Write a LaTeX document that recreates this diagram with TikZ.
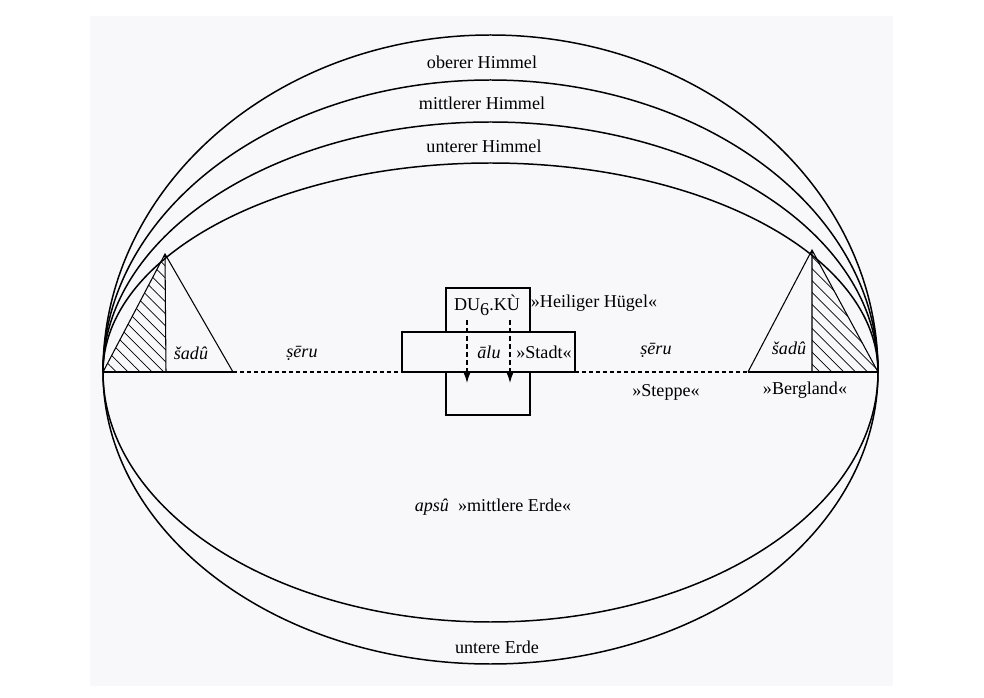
\documentclass[tikz,border=0pt]{standalone}
\usepackage{fontspec}
\setmainfont{Liberation Serif}
\usetikzlibrary{arrows.meta,patterns.meta}
\definecolor{pagegray}{RGB}{248,248,250}

\begin{document}
\begin{tikzpicture}[
      x=0.02cm, y=0.02cm,
      every node/.style={font=\fontsize{10.3}{12}\selectfont, inner sep=1pt},
      term/.style={font=\fontsize{10.3}{12}\selectfont\itshape},
      sky/.style={line width=0.85pt},
      ground/.style={line width=0.6pt},
      track/.style={line width=0.6pt, dash pattern=on 0.08cm off 0.06cm},
      hatch/.style={pattern={Lines[angle=-45,distance=4.8pt,line width=0.4pt]}},
      arr/.style={-{Latex[length=6pt,width=4pt]}, line width=0.6pt,
                  dash pattern=on 0.1cm off 0.06cm},
    ]
    % Page
    \useasboundingbox (0,0) rectangle (984,697);
    \fill[pagegray] (90,11) rectangle (893,681);

    % Horizon ends
    \coordinate (west) at (103,325);
    \coordinate (east) at (878,325);

    % Heavens and earth
    \foreach \b in {337,292,250,209}
      \draw[sky] (west) arc[start angle=180, end angle=0, x radius=387.5, y radius=\b];
    \foreach \b in {250,292}
      \draw[sky] (west) arc[start angle=180, end angle=360, x radius=387.5, y radius=\b];

    % Mountains
    \coordinate (lpeak) at (165,443);
    \coordinate (lfoot) at (166,325);
    \coordinate (lbase) at (233,325);
    \coordinate (rpeak) at (812,447);
    \coordinate (rfoot) at (812,325);
    \coordinate (rbase) at (748,325);
    \fill[hatch] (west) -- (lpeak) -- (lfoot) -- cycle;
    \fill[hatch] (east) -- (rpeak) -- (rfoot) -- cycle;
    \draw[ground] (west) -- (lpeak) -- (lbase) (lpeak) -- (lfoot);
    \draw[ground] (east) -- (rpeak) -- (rbase) (rpeak) -- (rfoot);

    % Hill and city
    \coordinate (cityW) at (402,325);
    \coordinate (cityE) at (575,325);
    \draw[ground] (446,282) rectangle (530,409);
    \filldraw[ground, fill=pagegray] (cityW) rectangle (575,365);

    % Horizon
    \draw[ground] (west) -- (lbase);
    \draw[track] (lbase) -- (cityW);
    \draw[track] (cityE) -- (rbase);
    \draw[ground] (rbase) -- (east);

    % Arrows
    \coordinate (dropA) at (467,377);
    \coordinate (dropAe) at (467,314);
    \coordinate (dropB) at (510,377);
    \coordinate (dropBe) at (510,314);
    \draw[arr] (dropA) -- (dropAe);
    \draw[arr] (dropB) -- (dropBe);

    % Labels
    \node (oben)   at (482,635) {oberer Himmel};
    \node (mitte)  at (482,594) {mittlerer Himmel};
    \node (unten)  at (484,551) {unterer Himmel};
    \node (erde)   at (497,50)  {untere Erde};
    \node (apsu)   at (493,190) {\textit{apsû}\hspace{0.5em}»mittlere Erde«};
    \node[term] (sadL) at (191,344) {šadû};
    \node[term] (sadR) at (789,349) {šadû};
    \node[term] (seruL) at (302,344) {ṣēru};
    \node[term] (seruR) at (656,347) {ṣēru};
    \node (duku)   at (487,392) {DU\raisebox{-0.6ex}{6}.KÙ};
    \node (huegel) at (594,394) {»Heiliger Hügel«};
    \node[term] (alu) at (489,345) {ālu};
    \node (stadt)  at (544,345) {»Stadt«};
    \node (steppe) at (666,305) {»Steppe«};
    \node (berg)   at (805,307) {»Bergland«};
\end{tikzpicture}
\end{document}
